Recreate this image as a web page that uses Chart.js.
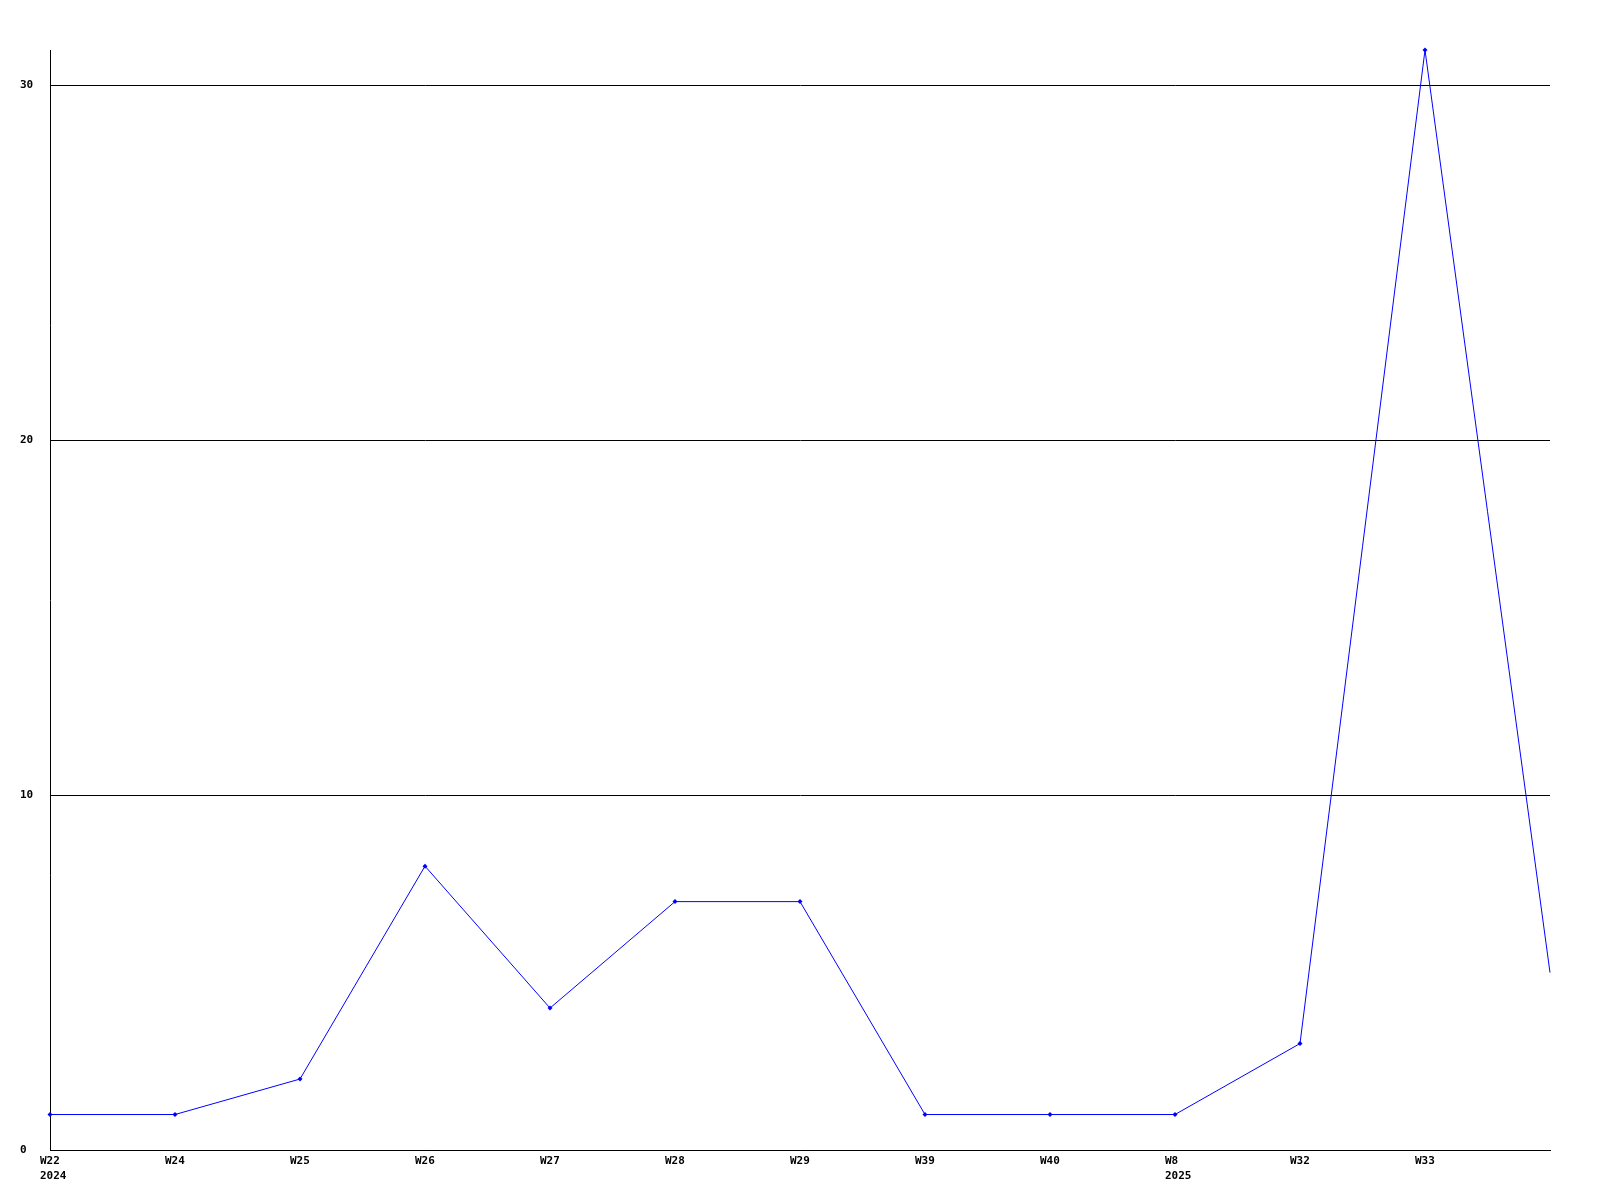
<html>

<head>
    <title>Weekly count</title>
    <script src="https://cdn.jsdelivr.net/npm/chart.js@4/dist/chart.umd.min.js"></script>
    <style>
        body { margin: 0; background: #fff; }
    </style>
</head>

<body>
    <canvas id="weeks" width="1600" height="1200"></canvas>
    <script>
        // x labels: week, and year shown under the first week of each year
        const weeks = ['W22', 'W24', 'W25', 'W26', 'W27', 'W28', 'W29', 'W39', 'W40', 'W8', 'W32', 'W33', ''];
        const years = ['2024', '', '', '', '', '', '', '', '', '2025', '', '', ''];
        const counts = [1, 1, 2, 8, 4, 7, 7, 1, 1, 1, 3, 31, 5];
        const yTicks = [0, 10, 20, 30];

        const labels = weeks.map((w, i) => years[i] ? [w, years[i]] : w);
        const font = { family: 'DejaVu Sans Mono', size: 11, weight: 'bold', lineHeight: 1.36 };

        let ctx = document.getElementById('weeks').getContext('2d');
        let chart = new Chart(ctx, {
            type: 'line',
            data: {
                labels: labels,
                datasets: [{
                    data: counts,
                    borderColor: '#0000ff',
                    backgroundColor: '#0000ff',
                    borderWidth: 1,
                    pointStyle: 'rectRot',
                    // the trailing (unlabelled) point has no marker
                    pointRadius: c => c.dataIndex === counts.length - 1 ? 0 : 2.5,
                    pointBorderWidth: 0,
                    fill: false,
                    tension: 0,
                    clip: false
                }]
            },
            options: {
                animation: false,
                responsive: false,
                layout: { padding: { left: 20, top: 50, right: 50, bottom: 0 } },
                plugins: { legend: { display: false }, tooltip: { enabled: false } },
                scales: {
                    x: {
                        offset: false,
                        grid: { display: false, drawTicks: false },
                        border: { color: '#000', width: 1 },
                        ticks: {
                            color: '#000',
                            font: font,
                            autoSkip: false,
                            maxRotation: 0,
                            align: 'start',
                            labelOffset: -10,
                            padding: 4
                        },
                        afterFit: function (scale) { scale.height = 50; }
                    },
                    y: {
                        min: 0,
                        max: 31,
                        afterBuildTicks: function (scale) {
                            scale.ticks = yTicks.map(v => ({ value: v }));
                        },
                        grid: {
                            drawTicks: false,
                            color: '#000',
                            lineWidth: 1
                        },
                        border: { color: '#000', width: 1 },
                        ticks: {
                            color: '#000',
                            font: font,
                            crossAlign: 'far',
                            padding: 0
                        },
                        afterFit: function (scale) { scale.width = 30; }
                    }
                }
            }
        });
    </script>
</body>

</html>
